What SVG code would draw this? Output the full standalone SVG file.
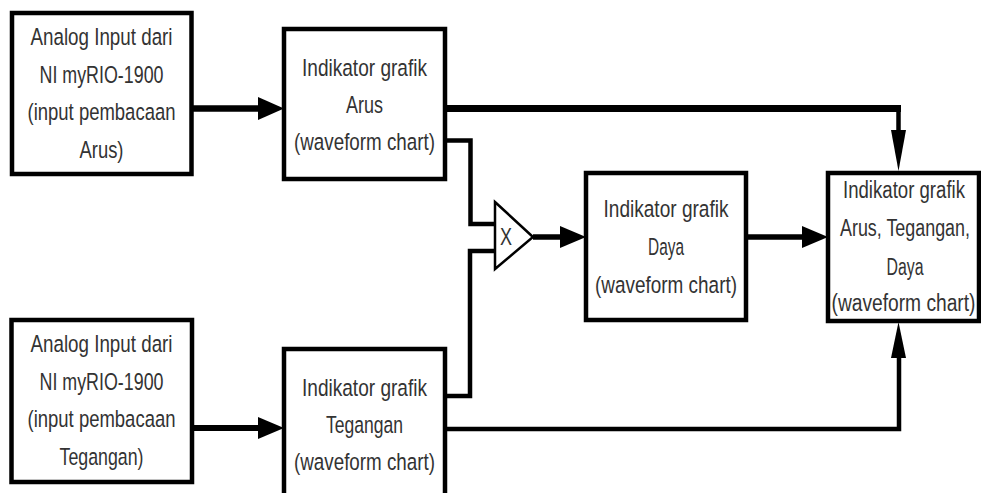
<svg xmlns="http://www.w3.org/2000/svg" width="981" height="493" viewBox="0 0 981 493">
<style>
.box{fill:#fff;stroke:#000;stroke-width:4.5}
.t{font-family:"Liberation Sans",Arial,sans-serif;font-size:24.5px;fill:#333;text-anchor:middle}
.s{font-size:23px}
.w{fill:none;stroke:#000;stroke-linejoin:miter}
.ah{fill:#000}
</style>
<rect width="981" height="493" fill="#fff"/>
<g id="connectors">
  <path class="w" d="M192,108.5 H262" stroke-width="6.5"/>
  <polygon class="ah" points="258,97 284,108.5 258,120"/>
  <path class="w" d="M192,428 H262" stroke-width="6"/>
  <polygon class="ah" points="258,417 284,428 258,439"/>
  <path class="w" d="M445,108.5 H901" stroke-width="7"/>
  <path class="w" d="M898.5,105 V140" stroke-width="4.5"/>
  <polygon class="ah" points="891,130 906,130 898.5,171"/>
  <path class="w" d="M445,140.5 H470.5 V224 H496" stroke-width="4.5"/>
  <path class="w" d="M445,396 H470 V251 H496" stroke-width="4.5"/>
  <path class="w" d="M445,429 H899 V350" stroke-width="4.5"/>
  <polygon class="ah" points="891,358 906,358 898.5,322"/>
  <path class="w" d="M533,237 H564" stroke-width="5.5"/>
  <polygon class="ah" points="560,226 586,237 560,248"/>
  <path class="w" d="M746,237 H806" stroke-width="5.5"/>
  <polygon class="ah" points="802,226 828,237 802,248"/>
</g>
<g id="mult">
  <polygon points="495,202 533,237 495,269" fill="#fff" stroke="#000" stroke-width="2.5"/>
  <text class="t" x="506" y="245" font-size="20" textLength="12" lengthAdjust="spacingAndGlyphs">X</text>
</g>
<g id="analog-arus">
  <rect class="box" x="12" y="13" width="179.5" height="161"/>
  <text class="t" x="101.5" y="45" textLength="142" lengthAdjust="spacingAndGlyphs">Analog Input dari</text>
  <text class="t" x="101.5" y="83" textLength="124" lengthAdjust="spacingAndGlyphs">NI myRIO-1900</text>
  <text class="t" x="101.5" y="120" textLength="148" lengthAdjust="spacingAndGlyphs">(input pembacaan</text>
  <text class="t" x="101.5" y="158" textLength="44" lengthAdjust="spacingAndGlyphs">Arus)</text>
</g>
<g id="analog-tegangan">
  <rect class="box" x="11.5" y="320" width="180.5" height="162"/>
  <text class="t" x="101.5" y="352" textLength="142" lengthAdjust="spacingAndGlyphs">Analog Input dari</text>
  <text class="t" x="101.5" y="390" textLength="124" lengthAdjust="spacingAndGlyphs">NI myRIO-1900</text>
  <text class="t" x="101.5" y="427" textLength="148" lengthAdjust="spacingAndGlyphs">(input pembacaan</text>
  <text class="t" x="101.5" y="465" textLength="84" lengthAdjust="spacingAndGlyphs">Tegangan)</text>
</g>
<g id="ind-arus">
  <rect class="box" x="284" y="29" width="161" height="150"/>
  <text class="t" x="364.5" y="76" textLength="125" lengthAdjust="spacingAndGlyphs">Indikator grafik</text>
  <text class="t" x="364.5" y="113" textLength="37" lengthAdjust="spacingAndGlyphs">Arus</text>
  <text class="t" x="364.5" y="150" textLength="141" lengthAdjust="spacingAndGlyphs">(waveform chart)</text>
</g>
<g id="ind-tegangan">
  <rect class="box" x="284" y="349" width="161" height="160"/>
  <text class="t" x="364.5" y="396" textLength="125" lengthAdjust="spacingAndGlyphs">Indikator grafik</text>
  <text class="t" x="364.5" y="433" textLength="77" lengthAdjust="spacingAndGlyphs">Tegangan</text>
  <text class="t" x="364.5" y="470" textLength="141" lengthAdjust="spacingAndGlyphs">(waveform chart)</text>
</g>
<g id="ind-daya">
  <rect class="box" x="586" y="173" width="160" height="147"/>
  <text class="t" x="666" y="217" textLength="125" lengthAdjust="spacingAndGlyphs">Indikator grafik</text>
  <text class="t" x="666" y="255" textLength="36" lengthAdjust="spacingAndGlyphs">Daya</text>
  <text class="t" x="666" y="293" textLength="142" lengthAdjust="spacingAndGlyphs">(waveform chart)</text>
</g>
<g id="ind-all">
  <rect class="box" x="828" y="173" width="151" height="148"/>
  <text class="t s" x="904" y="198" textLength="122" lengthAdjust="spacingAndGlyphs">Indikator grafik</text>
  <text class="t s" x="905" y="236" textLength="130" lengthAdjust="spacingAndGlyphs">Arus, Tegangan,</text>
  <text class="t s" x="905" y="275" textLength="37" lengthAdjust="spacingAndGlyphs">Daya</text>
  <text class="t s" x="903.5" y="311" textLength="144" lengthAdjust="spacingAndGlyphs">(waveform chart)</text>
</g>
</svg>
